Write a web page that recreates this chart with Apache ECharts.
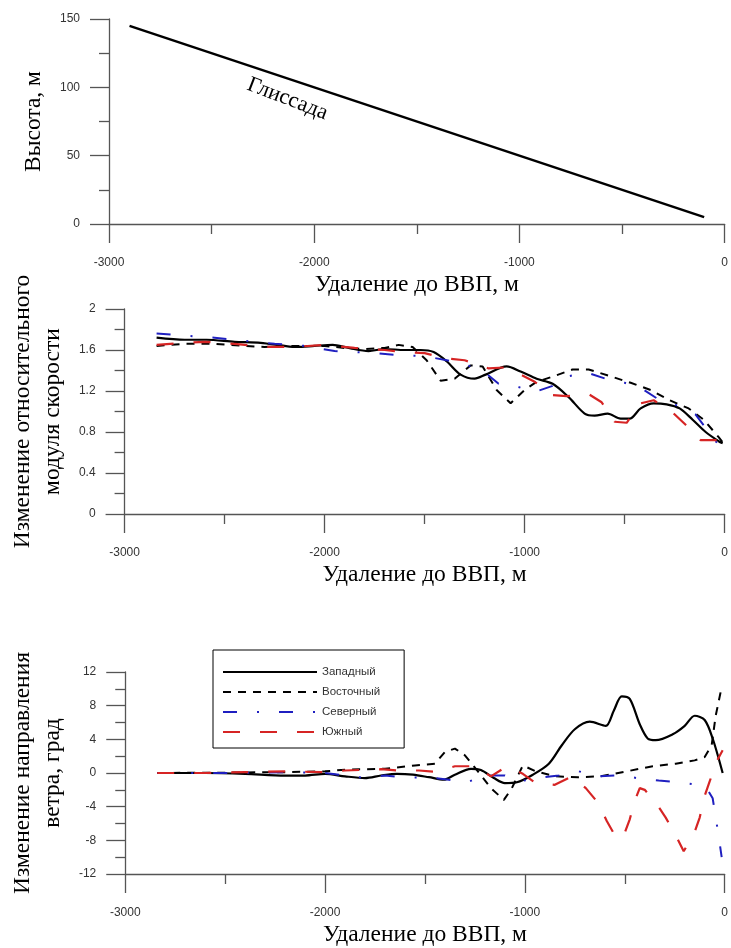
<!DOCTYPE html>
<html>
<head>
<meta charset="utf-8">
<script src="https://cdn.jsdelivr.net/npm/echarts@6/dist/echarts.min.js"></script>
<style>
html,body{margin:0;padding:0;background:#fff}
#chart{width:731px;height:948px}
</style>
</head>
<body>
<div id="chart"></div>
<script>
// глиссада: удаление (м) -> высота (м)
const glideX = [-2900, -100];
const glideY = [145, 5];

// изменение относительного модуля скорости, [удаление, значение]
const speedWest = [[-2840,1.72],[-2700,1.70],[-2590,1.70],[-2450,1.68],[-2320,1.67],[-2200,1.64],[-2140,1.63],[-2050,1.64],[-1960,1.65],[-1880,1.62],[-1780,1.59],[-1700,1.61],[-1600,1.60],[-1520,1.60],[-1455,1.58],[-1390,1.49],[-1320,1.36],[-1250,1.32],[-1195,1.36],[-1090,1.44],[-1020,1.39],[-940,1.32],[-860,1.27],[-780,1.14],[-700,0.98],[-650,0.96],[-585,0.98],[-520,0.93],[-475,0.93],[-420,1.03],[-355,1.08],[-290,1.07],[-225,1.03],[-160,0.92],[-95,0.80],[-30,0.71],[-10,0.69]];
const speedEast = [[-2840,1.64],[-2700,1.66],[-2550,1.66],[-2400,1.64],[-2300,1.63],[-2150,1.64],[-2000,1.64],[-1900,1.62],[-1800,1.61],[-1700,1.62],[-1630,1.65],[-1560,1.63],[-1490,1.50],[-1420,1.30],[-1350,1.32],[-1270,1.45],[-1210,1.44],[-1140,1.21],[-1070,1.08],[-1000,1.21],[-940,1.29],[-860,1.34],[-760,1.41],[-680,1.41],[-565,1.34],[-470,1.28],[-370,1.21],[-275,1.11],[-180,1.03],[-105,0.92],[-30,0.75],[-10,0.70]];
const speedNorth = [[-2840,1.76],[-2700,1.74],[-2550,1.72],[-2400,1.69],[-2250,1.66],[-2100,1.64],[-1950,1.59],[-1850,1.58],[-1750,1.57],[-1630,1.55],[-1500,1.54],[-1390,1.50],[-1300,1.46],[-1210,1.40],[-1130,1.27],[-1050,1.25],[-950,1.19],[-860,1.25],[-790,1.34],[-690,1.38],[-580,1.31],[-500,1.28],[-420,1.23],[-340,1.13],[-240,1.06],[-145,0.97],[-65,0.76],[-25,0.66]];
const speedSouth = [[-2840,1.65],[-2700,1.67],[-2600,1.68],[-2450,1.66],[-2300,1.63],[-2150,1.63],[-2000,1.65],[-1850,1.62],[-1700,1.60],[-1600,1.58],[-1500,1.57],[-1400,1.52],[-1300,1.50],[-1180,1.42],[-1100,1.43],[-1020,1.36],[-950,1.29],[-860,1.16],[-790,1.15],[-680,1.17],[-615,1.09],[-550,0.90],[-490,0.89],[-420,1.08],[-355,1.11],[-260,0.99],[-195,0.87],[-120,0.72],[-45,0.72],[-15,0.70]];

// изменение направления ветра, град
const dirWest = [[-2840,0],[-2600,0],[-2400,-0.1],[-2200,-0.3],[-2100,-0.3],[-2000,-0.1],[-1900,-0.4],[-1800,-0.6],[-1720,-0.3],[-1640,-0.1],[-1560,-0.2],[-1480,-0.5],[-1405,-0.8],[-1350,-0.2],[-1270,0.5],[-1220,0.35],[-1155,-0.6],[-1100,-1.2],[-1040,-1.1],[-960,-0.2],[-880,1.1],[-815,3.3],[-750,5.2],[-675,6.1],[-595,5.6],[-555,7.4],[-515,9.1],[-475,8.8],[-425,5.8],[-385,4.1],[-345,3.9],[-260,4.6],[-200,5.6],[-150,6.8],[-100,6.3],[-60,4.1],[-10,0]];
const dirEast = [[-2840,0],[-2500,0.05],[-2200,0.1],[-2000,0.2],[-1900,0.4],[-1700,0.5],[-1550,0.9],[-1450,1.1],[-1400,2.5],[-1350,2.9],[-1300,2.1],[-1235,0.2],[-1170,-1.8],[-1105,-3.2],[-1065,-1.8],[-1010,0.9],[-945,0.2],[-845,-0.4],[-735,-0.5],[-620,-0.4],[-490,0.2],[-360,0.8],[-245,1.1],[-150,1.5],[-100,1.9],[-65,3.3],[-45,6.8],[-15,10.2]];
const dirNorth = [[-2840,0],[-2500,0],[-2200,0.1],[-2000,0],[-1900,-0.3],[-1800,-0.6],[-1700,-0.3],[-1600,-0.55],[-1480,-0.5],[-1380,-0.8],[-1290,-1.1],[-1200,-0.3],[-1100,-0.3],[-1030,-1.0],[-910,-0.5],[-830,-0.3],[-730,0.2],[-635,-0.4],[-520,-0.25],[-440,-0.6],[-330,-0.9],[-230,-1.1],[-140,-1.4],[-90,-1.8],[-60,-3],[-30,-7.5],[-15,-10]];
const dirSouth = [[-2840,0],[-2600,0],[-2400,0.1],[-2200,0.2],[-2000,0.1],[-1900,0.3],[-1720,0.45],[-1640,0.3],[-1530,0.3],[-1450,0.15],[-1350,0.8],[-1250,0.8],[-1170,-0.4],[-1090,0.8],[-1010,-0.1],[-945,-1.2],[-850,-1.4],[-765,-0.4],[-695,-1.8],[-635,-3.5],[-590,-5.7],[-540,-7.8],[-505,-7.4],[-475,-5.5],[-450,-3.3],[-425,-1.8],[-400,-2.0],[-345,-3.5],[-295,-5.3],[-245,-7.4],[-205,-9.3],[-150,-7],[-125,-5.3],[-100,-2.7],[-75,-1],[-40,1.4],[-10,2.7]];

const names = ['Западный', 'Восточный', 'Северный', 'Южный'];

const serif = 'Liberation Serif, Times New Roman, serif';
const sans = 'Liberation Sans, Arial, sans-serif';
const axisColor = '#555';
const nameSize = 23.5;

function makeX(grid) {
    return {
        type: 'value', gridIndex: grid,
        min: -3000, max: 0, interval: 1000,
        name: 'Удаление до ВВП, м', nameLocation: 'middle', nameGap: 49,
        nameTextStyle: {fontFamily: serif, fontSize: nameSize, color: '#000'},
        axisLine: {onZero: false, lineStyle: {color: axisColor, width: 1.3}},
        axisTick: {length: 19, lineStyle: {color: axisColor, width: 1.3}},
        minorTick: {show: true, splitNumber: 2, length: 10, lineStyle: {color: axisColor, width: 1.3}},
        axisLabel: {margin: 33, fontFamily: sans, fontSize: 12, color: '#333', formatter: v => String(v)},
        splitLine: {show: false}
    };
}

function makeY(grid, min, max, step, name, gap) {
    return {
        type: 'value', gridIndex: grid,
        min: min, max: max, interval: step,
        name: name, nameLocation: 'middle', nameGap: gap,
        nameTextStyle: {fontFamily: serif, fontSize: nameSize, color: '#000', lineHeight: 30},
        axisLine: {onZero: false, lineStyle: {color: axisColor, width: 1.3}},
        axisTick: {length: 19, lineStyle: {color: axisColor, width: 1.3}},
        minorTick: {show: true, splitNumber: 2, length: 10, lineStyle: {color: axisColor, width: 1.3}},
        axisLabel: {margin: 29, fontFamily: sans, fontSize: 12, color: '#333', formatter: v => String(v)},
        splitLine: {show: false}
    };
}

const styles = [
    {color: '#000', width: 2.2, type: 'solid'},
    {color: '#000', width: 2, type: [8, 7]},
    {color: '#1f1fc0', width: 2, type: [14, 20, 2, 20]},
    {color: '#d62424', width: 2.2, type: [17, 20]}
];

function lineSeries(i, grid, data) {
    return {
        name: names[i], type: 'line',
        xAxisIndex: grid, yAxisIndex: grid,
        data: data, symbol: 'none', smooth: i === 0 ? 0.3 : false,
        lineStyle: styles[i], itemStyle: {color: styles[i].color}
    };
}

const chart = echarts.init(document.getElementById('chart'));
chart.setOption({
    animation: false,
    grid: [
        {left: 109, top: 19, width: 618, height: 205},
        {left: 111, top: 309, width: 619, height: 205},
        {left: 114, top: 672, width: 617, height: 205}
    ],
    xAxis: [makeX(0), makeX(1), makeX(2)],
    yAxis: [
        makeY(0, 0, 150, 50, 'Высота, м', 52),
        makeY(1, 0, 2, 0.4, 'Изменение относительного\nмодуля скорости', 56),
        makeY(2, -12, 12, 4, 'Изменение направления\nветра, град', 57)
    ],
    legend: {
        data: names,
        orient: 'vertical',
        left: 213, top: 650,
        padding: [16, 24, 10, 9],
        itemWidth: 94, itemHeight: 12, itemGap: 8,
        borderColor: '#000', borderWidth: 1,
        itemStyle: {color: 'rgba(0,0,0,0)', borderWidth: 0, opacity: 0},
        textStyle: {fontFamily: sans, fontSize: 11.5, color: '#333'}
    },
    series: [
        {
            type: 'line', xAxisIndex: 0, yAxisIndex: 0,
            data: glideX.map((x, i) => [x, glideY[i]]),
            symbol: 'none', lineStyle: {color: '#000', width: 2.5}
        },
        lineSeries(0, 1, speedWest),
        lineSeries(1, 1, speedEast),
        lineSeries(2, 1, speedNorth),
        lineSeries(3, 1, speedSouth),
        lineSeries(0, 2, dirWest),
        lineSeries(1, 2, dirEast),
        lineSeries(2, 2, dirNorth),
        lineSeries(3, 2, dirSouth)
    ]
});

// подпись глиссады под линией
const labelPos = chart.convertToPixel({xAxisIndex: 0, yAxisIndex: 0}, [-2130, 91.5]);
chart.setOption({
    graphic: [{
        type: 'text',
        x: labelPos[0], y: labelPos[1],
        rotation: -21 * Math.PI / 180,
        style: {
            text: 'Глиссада', fontFamily: serif, fontSize: 22, fill: '#000',
            align: 'center', verticalAlign: 'middle'
        }
    }]
});
</script>
</body>
</html>
